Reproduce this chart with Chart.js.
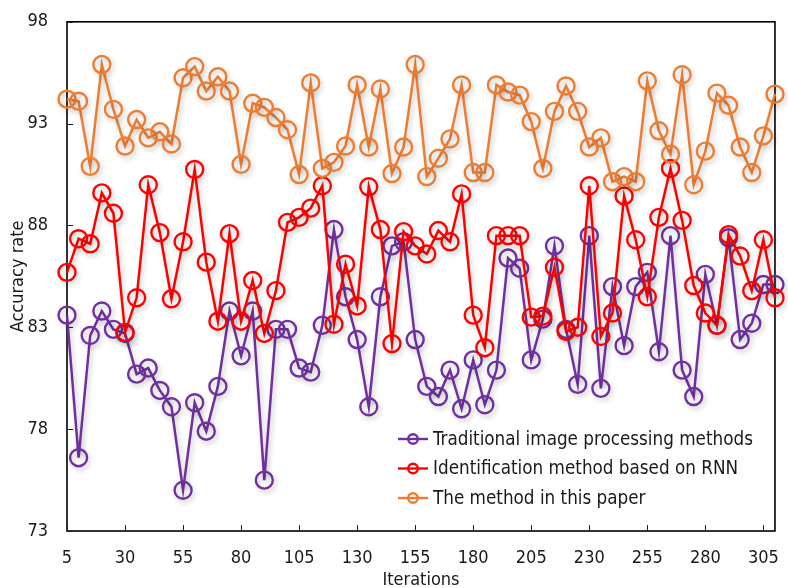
<!DOCTYPE html>
<html>
<head>
<meta charset="utf-8">
<script src="https://cdn.jsdelivr.net/npm/chart.js@4.4.1/dist/chart.umd.min.js"></script>
<style>
html,body{margin:0;padding:0;background:#fff;}
canvas{display:block;}
</style>
</head>
<body>
<canvas id="c" width="788" height="588"></canvas>
<script>
const iterations = [5,10,15,20,25,30,35,40,45,50,55,60,65,70,75,80,85,90,95,100,
  105,110,115,120,125,130,135,140,145,150,155,160,165,170,175,180,185,190,195,200,
  205,210,215,220,225,230,235,240,245,250,255,260,265,270,275,280,285,290,295,300,305,310];
const xTickValues = [5,30,55,80,105,130,155,180,205,230,255,280,305];
const yTickValues = [73,78,83,88,93,98];

const traditional = [83.6,76.6,82.6,83.8,82.9,82.7,80.7,81.0,79.9,79.1,
  75.0,79.3,77.9,80.1,83.8,81.6,83.8,75.5,82.9,82.9,
  81.0,80.8,83.1,87.8,84.5,82.4,79.1,84.5,87.0,87.2,
  82.4,80.1,79.6,80.9,79.0,81.4,79.2,80.9,86.4,85.9,
  81.4,83.4,87.0,82.9,80.2,87.5,80.0,85.0,82.1,85.0,
  85.7,81.8,87.5,80.9,79.6,85.6,83.1,87.4,82.4,83.2,85.1,85.1];

const rnnBased = [85.7,87.35,87.1,89.6,88.6,82.75,84.45,90.0,87.65,84.4,
  87.2,90.75,86.2,83.3,87.6,83.3,85.3,82.7,84.8,88.15,
  88.4,88.85,89.95,83.15,86.1,84.05,89.9,87.8,82.2,87.7,
  87.0,86.6,87.75,87.2,89.55,83.6,82.0,87.5,87.5,87.5,
  83.5,83.55,85.95,82.8,83.0,89.95,82.55,83.7,89.45,87.3,
  84.5,88.4,90.8,88.25,85.05,83.7,83.1,87.55,86.5,84.8,87.3,84.45];

const proposed = [94.2,94.1,90.9,95.9,93.7,91.9,93.2,92.3,92.6,92.0,
  95.25,95.8,94.6,95.3,94.6,91.0,94.0,93.8,93.3,92.7,
  90.5,95.0,90.8,91.1,91.9,94.9,91.85,94.7,90.55,91.85,
  95.9,90.4,91.3,92.25,94.9,90.6,90.6,94.9,94.55,94.4,
  93.1,90.8,93.6,94.85,93.6,91.85,92.3,90.15,90.4,90.15,
  95.1,92.65,91.5,95.4,90.0,91.65,94.5,93.9,91.85,90.6,92.4,94.45];

const seriesLabels = ['Traditional image processing methods','Identification method based on RNN','The method in this paper'];
const seriesColors = ['#7030A0','#FF0000','#ED7D31'];

const FONT = '"DejaVu Sans Condensed", "DejaVu Sans", sans-serif';
const TEXT = '#1a1a1a';

const toPoints = arr => arr.map((v, i) => ({x: iterations[i], y: v}));

const decor = {
  id: 'decor',
  beforeDatasetsDraw(chart) {
    const {ctx, chartArea: a, scales} = chart;
    ctx.save();
    ctx.strokeStyle = '#000';
    ctx.lineWidth = 1.6;
    ctx.strokeRect(a.left, a.top, a.right - a.left, a.bottom - a.top);
    ctx.lineWidth = 1;
    ctx.strokeStyle = '#222';
    scales.x.ticks.forEach(t => {
      const px = Math.round(scales.x.getPixelForValue(t.value)) + 0.5;
      ctx.beginPath(); ctx.moveTo(px, a.bottom); ctx.lineTo(px, a.bottom - 6); ctx.stroke();
    });
    scales.y.ticks.forEach(t => {
      const py = Math.round(scales.y.getPixelForValue(t.value)) + 0.5;
      ctx.beginPath(); ctx.moveTo(a.left, py); ctx.lineTo(a.left + 6, py); ctx.stroke();
    });
    ctx.restore();
    ctx.save();
    ctx.shadowColor = 'rgba(0,0,0,0.22)';
    ctx.shadowBlur = 5;
    ctx.shadowOffsetX = 2;
    ctx.shadowOffsetY = 3;
  },
  afterDatasetsDraw(chart) {
    const ctx = chart.ctx;
    ctx.restore();
    ctx.save();
    const lx = 398, ly = 439, gap = 29.5;
    chart.data.datasets.forEach((ds, k) => {
      const y = ly + gap * k;
      ctx.strokeStyle = ds.borderColor;
      ctx.lineWidth = 2.4;
      ctx.beginPath(); ctx.moveTo(lx, y); ctx.lineTo(lx + 30, y); ctx.stroke();
      ctx.beginPath(); ctx.arc(lx + 15, y, 4.8, 0, Math.PI * 2); ctx.stroke();
      ctx.fillStyle = TEXT;
      ctx.font = '18.7px ' + FONT;
      ctx.textBaseline = 'middle';
      ctx.textAlign = 'left';
      ctx.fillText(ds.label, lx + 35, y + 1);
    });
    ctx.restore();
  }
};

new Chart(document.getElementById('c'), {
  type: 'line',
  data: {
    datasets: [traditional, rnnBased, proposed].map((d, k) => ({
      label: seriesLabels[k],
      data: toPoints(d),
      borderColor: seriesColors[k],
      backgroundColor: seriesColors[k],
      pointBackgroundColor: 'rgba(255,255,255,0)',
      pointBorderColor: seriesColors[k],
      pointRadius: 8.5,
      pointBorderWidth: 2.4,
      borderWidth: 2.5,
      tension: 0,
      clip: false,
      order: 3 - k
    }))
  },
  options: {
    responsive: false,
    animation: false,
    devicePixelRatio: 1,
    events: [],
    layout: {padding: {left: 0, right: 11, top: 17, bottom: 0}},
    plugins: {legend: {display: false}, tooltip: {enabled: false}},
    scales: {
      x: {
        type: 'linear',
        min: 5,
        max: 310,
        afterBuildTicks: s => { s.ticks = xTickValues.map(v => ({value: v})); },
        afterFit: s => { s.height = 57; },
        grid: {display: false},
        border: {display: false},
        ticks: {color: TEXT, font: {family: FONT, size: 18}, padding: 9, maxRotation: 0, autoSkip: false},
        title: {display: true, text: 'Iterations', color: TEXT, font: {family: FONT, size: 18, lineHeight: 1}, padding: {top: 0, bottom: -1}}
      },
      y: {
        type: 'linear',
        min: 73,
        max: 98,
        afterBuildTicks: s => { s.ticks = yTickValues.map(v => ({value: v})); },
        afterFit: s => { s.width = 67; },
        grid: {display: false},
        border: {display: false},
        ticks: {color: TEXT, font: {family: FONT, size: 18}, padding: 11},
        title: {display: true, text: 'Accuracy rate', color: TEXT, font: {family: FONT, size: 18, lineHeight: 1}, padding: {top: 9, bottom: 0}}
      }
    }
  },
  plugins: [decor]
});
</script>
</body>
</html>
